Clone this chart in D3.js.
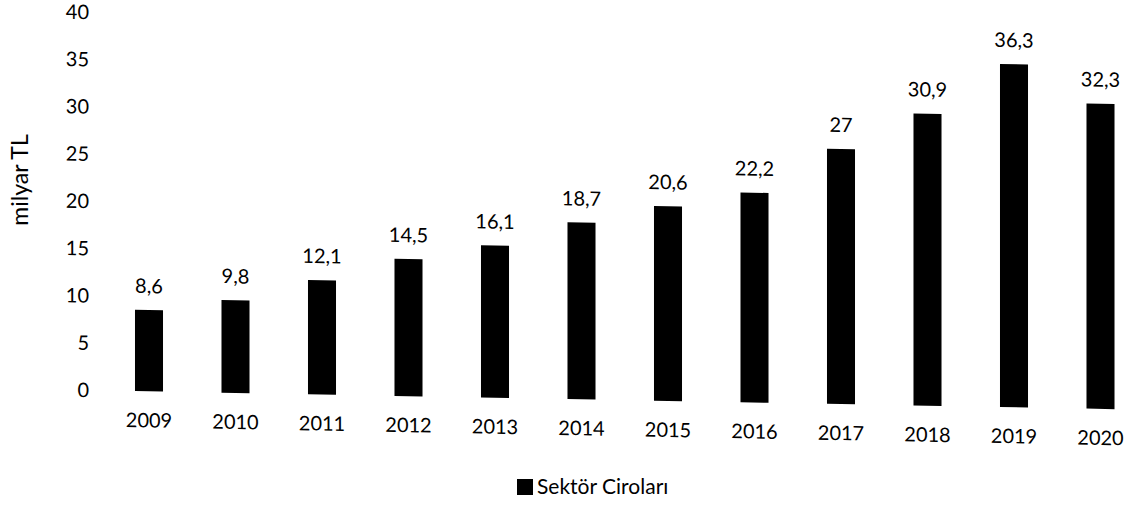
<!DOCTYPE html>
<html><head><meta charset="utf-8">
<script src="https://cdn.jsdelivr.net/npm/d3@7"></script>
<style>body{margin:0;background:#fff}svg{display:block}text{font-family:Lato,"Open Sans",sans-serif;fill:#000}</style>
</head><body><svg id="c" width="1125" height="505"></svg>
<script>
const years = ["2009","2010","2011","2012","2013","2014","2015","2016","2017","2018","2019","2020"];
const values = [8.6,9.8,12.1,14.5,16.1,18.7,20.6,22.2,27,30.9,36.3,32.3];
const valueLabels = ["8,6","9,8","12,1","14,5","16,1","18,7","20,6","22,2","27","30,9","36,3","32,3"];
const yTicks = [0,5,10,15,20,25,30,35,40];
const seriesName = "Sektör Ciroları";

const svg = d3.select("#c");
const pivotX = 75;
const skewDeg = Math.atan(0.0184) * 180 / Math.PI;
const g = svg.append("g").attr("transform", `translate(${pivotX},0) skewY(${skewDeg}) translate(${-pivotX},0)`);

const step = 86.5;
const start = 149 - step/2;
const x = d3.scaleBand().domain(years).range([start, start + step*years.length]).paddingInner(0.676).paddingOuter(0.338);
const y = d3.scaleLinear().domain([0,40]).range([390, 12]);

// y axis labels (no line)
const yAxis = d3.axisLeft(y).tickValues(yTicks).tickSize(0).tickPadding(0);
const ya = g.append("g").attr("transform","translate(89,0)").call(yAxis);
ya.select(".domain").remove();
ya.selectAll("text").style("font-size","20px").style("font-family","Lato").attr("fill","#000");

// x axis labels
const xAxis = d3.axisBottom(x).tickSize(0).tickPadding(0);
const xa = g.append("g").attr("transform","translate(0,419)").call(xAxis);
xa.select(".domain").remove();
xa.selectAll("text").style("font-size","20px").style("font-family","Lato").attr("fill","#000").attr("dy","0.35em");

// bars
g.selectAll("rect.bar").data(values).join("rect").attr("class","bar")
  .attr("x",(d,i)=>x(years[i])).attr("width",x.bandwidth())
  .attr("y",d=>y(d)).attr("height",d=>y(0)-y(d)).attr("fill","#000");

// value labels
g.selectAll("text.val").data(values).join("text").attr("class","val")
  .attr("x",(d,i)=>x(years[i])+x.bandwidth()/2).attr("y",d=>y(d)-17)
  .attr("text-anchor","middle").style("font-size","20px").text((d,i)=>valueLabels[i]);

// y title
svg.append("text").attr("transform","translate(28,180) rotate(-90)").attr("text-anchor","middle")
  .style("font-size","23px").text("milyar TL");

// legend
const lg = svg.append("g").attr("transform","translate(517,479)");
lg.append("rect").attr("width",16).attr("height",16).attr("fill","#000");
lg.append("text").attr("x",20).attr("y",8).attr("dy","0.35em").style("font-size","21px").text(seriesName);
</script></body></html>
